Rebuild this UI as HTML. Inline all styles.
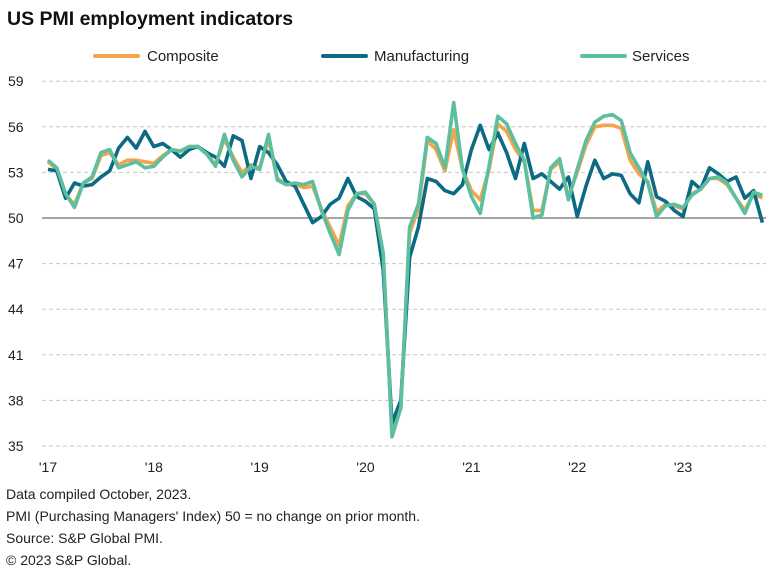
<!DOCTYPE html>
<html><head><meta charset="utf-8"><style>
body{margin:0;background:#fff;width:777px;height:575px;overflow:hidden;font-family:"Liberation Sans",Arial,sans-serif;}
svg{display:block}
</style></head><body>
<svg id="chart" width="777" height="575" xmlns="http://www.w3.org/2000/svg" font-family="Liberation Sans, Arial, sans-serif">
<text x="7" y="25" font-size="19.5" font-weight="bold" fill="#111">US PMI employment indicators</text>
<g>
<g><line x1="95" y1="56" x2="138" y2="56" stroke="#f2a54a" stroke-width="4" stroke-linecap="round"/><text x="147" y="61" font-size="15" fill="#222">Composite</text></g>
<g><line x1="323" y1="56" x2="366" y2="56" stroke="#0c6a84" stroke-width="4" stroke-linecap="round"/><text x="374" y="61" font-size="15" fill="#222">Manufacturing</text></g>
<g><line x1="582" y1="56" x2="625" y2="56" stroke="#5cc0a0" stroke-width="4" stroke-linecap="round"/><text x="632" y="61" font-size="15" fill="#222">Services</text></g>
</g>
<g id="grid"></g>
<g id="yaxis"></g>
<g id="xaxis"></g>
<g id="series"></g>
<g font-size="14" fill="#222">
<text x="6" y="499">Data compiled October, 2023.</text>
<text x="6" y="521">PMI (Purchasing Managers' Index) 50 =  no change on prior month.</text>
<text x="6" y="543">Source: S&amp;P Global PMI.</text>
<text x="6" y="565">© 2023 S&amp;P Global.</text>
</g>
</svg>
<script>
const yTicks=[35,38,41,44,47,50,53,56,59];
const xTickLabels=["'17","'18","'19","'20","'21","'22","'23"];
const manufacturing=[53.2,53.1,51.3,52.3,52.1,52.2,52.7,53.1,54.6,55.3,54.6,55.7,
54.7,54.9,54.5,54.0,54.5,54.7,54.3,54.0,53.4,55.4,55.1,52.6,
54.7,54.3,53.5,52.4,52.1,50.9,49.7,50.1,50.9,51.3,52.6,51.4,
51.1,50.6,46.6,36.5,38.0,47.4,49.4,52.6,52.4,51.8,51.6,52.2,
54.5,56.1,54.5,55.6,54.3,52.6,54.9,52.6,52.9,52.4,51.9,52.7,
50.1,52.1,53.8,52.6,52.9,52.8,51.6,51.0,53.7,51.4,51.1,50.5,
50.1,52.4,51.9,53.3,52.9,52.4,52.7,51.3,51.8,49.7];
const services=[53.8,53.3,51.6,50.7,52.3,52.7,54.3,54.5,53.3,53.5,53.7,53.3,
53.4,54.0,54.5,54.4,54.7,54.7,54.2,53.4,55.5,53.8,52.7,53.4,
53.2,55.5,52.5,52.2,52.3,52.2,52.4,50.5,49.0,47.6,50.5,51.6,
51.7,50.9,47.7,35.6,37.5,49.4,50.9,55.3,54.9,53.3,57.6,53.2,
51.4,50.3,53.4,56.7,56.2,54.9,53.8,50.0,50.2,53.3,53.9,51.2,
53.2,55.1,56.3,56.7,56.8,56.4,54.3,53.3,52.3,50.1,50.8,50.9,
50.7,51.5,51.9,52.6,52.7,52.3,51.3,50.3,51.7,51.5];
const composite=[53.7,53.2,51.5,50.9,52.3,52.6,54.1,54.3,53.5,53.8,53.8,53.7,
53.6,54.1,54.5,54.4,54.7,54.7,54.2,53.5,55.2,54.0,53.0,53.5,
53.3,55.2,52.6,52.2,52.2,52.0,52.1,50.6,49.4,48.2,50.8,51.6,
51.6,50.9,47.6,35.8,37.5,49.0,50.6,55.1,54.5,53.1,55.8,53.2,
51.8,51.2,53.2,56.2,55.7,54.5,53.7,50.5,50.5,53.2,53.7,51.4,
53.0,54.8,56.0,56.1,56.1,55.9,53.8,52.9,52.4,50.4,50.9,50.8,
50.6,51.6,51.9,52.6,52.6,52.2,51.3,50.5,51.6,51.3];
const X0=48, PXM=8.82, Y50=218, PXU=15.2;
function xs(i){return X0+i*PXM;}
function ys(v){return Y50-(v-50)*PXU;}
const NS="http://www.w3.org/2000/svg";
const grid=document.getElementById('grid'), ya=document.getElementById('yaxis'), xa=document.getElementById('xaxis'), ser=document.getElementById('series');
yTicks.forEach(t=>{
  const l=document.createElementNS(NS,'line');
  
  
  l.setAttribute('x1',42);l.setAttribute('x2',766);l.setAttribute('y1',ys(t));l.setAttribute('y2',ys(t));
  if(t===50){l.setAttribute('stroke','#888');l.setAttribute('stroke-width','1.5');}
  else{l.setAttribute('stroke','#c8c8c8');l.setAttribute('stroke-width','1');l.setAttribute('stroke-dasharray','4,3');}
  grid.appendChild(l);
  const tx=document.createElementNS(NS,'text');
  
  
  tx.setAttribute('x',8);tx.setAttribute('y',ys(t)+5);tx.setAttribute('font-size','14');tx.setAttribute('fill','#222');
  tx.textContent=t;ya.appendChild(tx);
});
xTickLabels.forEach((lab,k)=>{
  const tx=document.createElementNS(NS,'text');
  
  
  tx.setAttribute('x',xs(k*12));tx.setAttribute('y',472);tx.setAttribute('font-size','14');tx.setAttribute('fill','#222');tx.setAttribute('text-anchor','middle');
  tx.textContent=lab;xa.appendChild(tx);
});
function line(data,color,name){
  const p=document.createElementNS(NS,'polyline');
  
  
  p.setAttribute('points',data.map((v,i)=>xs(i).toFixed(1)+','+ys(v).toFixed(1)).join(' '));
  p.setAttribute('fill','none');p.setAttribute('stroke',color);p.setAttribute('stroke-width','3.6');p.setAttribute('stroke-linejoin','round');
  ser.appendChild(p);
}
line(composite,'#f2a54a','composite-line');
line(manufacturing,'#0c6a84','manufacturing-line');
line(services,'#5cc0a0','services-line');
</script>
</body></html>
